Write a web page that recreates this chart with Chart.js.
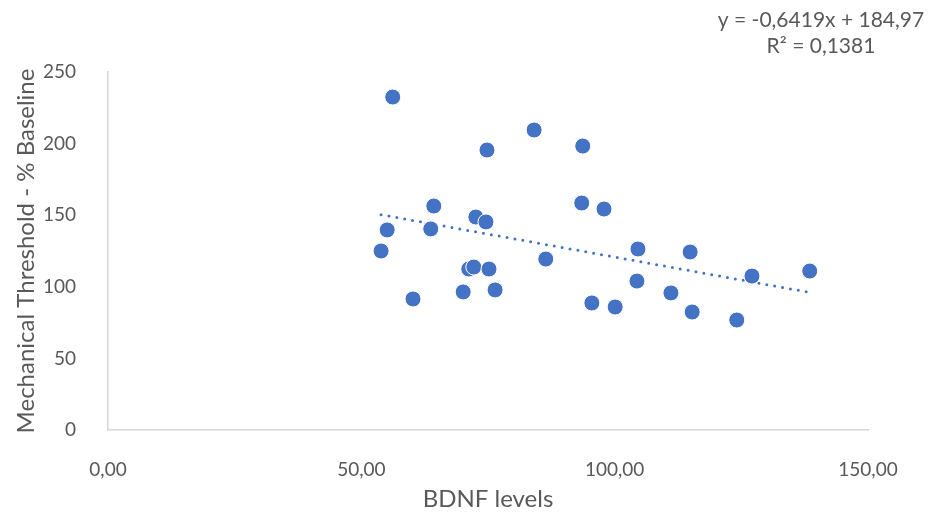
<!DOCTYPE html>
<html>
<head>
<meta charset="utf-8">
<script src="https://cdn.jsdelivr.net/npm/chart.js@4"></script>
<style>
  body { margin: 0; background: #fff; }
  #wrap { width: 930px; height: 520px; }
</style>
</head>
<body>
<div id="wrap"><canvas id="graph"></canvas></div>
<script>
// BDNF levels (x) and mechanical threshold % baseline (y)
const bdnf = [53.9, 55.1, 56.2, 60.2, 63.7, 64.3, 70.1, 71.2, 72.2, 72.6, 74.6, 74.8, 75.2, 76.4,
  84.1, 86.4, 93.5, 93.7, 95.5, 97.9, 100.1, 104.4, 104.6, 111.1, 114.9, 115.3, 124.1, 127.1, 138.5];
const threshold = [125, 139.7, 232.5, 91.5, 140.4, 156.4, 96.4, 112.4, 113.8, 148.7, 145.3, 195.5, 112.4, 97.8,
  209.5, 119.4, 158.5, 198.3, 88.7, 154.3, 85.9, 104, 126.4, 95.7, 124.3, 82.4, 76.8, 107.5, 111];

// trendline from the equation on the chart
const slope = -0.6419;
const intercept = 184.97;
const eqLines = ['y = -0,6419x + 184,97', 'R² = 0,1381'];

const points = bdnf.map((x, i) => ({ x: x, y: threshold[i] }));
const xMin = Math.min(...bdnf), xMax = Math.max(...bdnf);
const trend = [xMin, xMax].map(x => ({ x: x, y: slope * x + intercept }));

const blue = '#4472C4';
const grey = '#595959';
const font = 'Lato, "Open Sans", sans-serif';

// draws the trend equation in the top right
const equation = {
  id: 'equation',
  afterDraw(chart) {
    const ctx = chart.ctx;
    ctx.save();
    ctx.fillStyle = grey;
    ctx.font = '21px ' + font;
    ctx.textAlign = 'center';
    ctx.textBaseline = 'middle';
    ctx.fillText(eqLines[0], 821, 20);
    ctx.fillText(eqLines[1], 821, 46);
    ctx.restore();
  }
};

const graph = document.getElementById('graph').getContext('2d');
let myChart = new Chart(graph, {
  data: {
    datasets: [
      {
        type: 'line',
        data: trend,
        borderColor: blue,
        borderWidth: 3,
        borderDash: [0, 8],
        borderCapStyle: 'round',
        pointRadius: 0,
        fill: false,
        order: 2
      },
      {
        type: 'scatter',
        data: points,
        backgroundColor: blue,
        borderColor: '#fff',
        borderWidth: 1,
        pointRadius: 8,
        pointHoverRadius: 8,
        order: 1
      }
    ]
  },
  options: {
    responsive: true,
    maintainAspectRatio: false,
    animation: false,
    layout: { padding: { top: 72, right: 62, left: 0, bottom: 0 } },
    plugins: { legend: { display: false }, tooltip: { enabled: false } },
    scales: {
      x: {
        type: 'linear',
        min: 0, max: 150,
        grid: { display: false },
        border: { display: true, color: '#d6d6d6', width: 1.5 },
        ticks: {
          stepSize: 50, color: grey, padding: 20,
          font: { family: font, size: 19 },
          maxRotation: 0,
          callback: v => v.toFixed(2).replace('.', ',')
        },
        title: {
          display: true, text: 'BDNF levels', color: grey,
          font: { family: font, size: 24 },
          padding: { top: 0, bottom: 6 }
        },
        afterFit(scale) { scale.height = 90; }
      },
      y: {
        min: 0, max: 250,
        grid: { display: false },
        border: { display: true, color: '#d6d6d6', width: 1.5 },
        ticks: {
          stepSize: 50, color: grey, padding: 24,
          font: { family: font, size: 19 }
        },
        title: {
          display: true, text: 'Mechanical Threshold - % Baseline', color: grey,
          font: { family: font, size: 24 },
          padding: { top: 12, bottom: 0 }
        },
        afterFit(scale) { scale.width = 108; }
      }
    }
  },
  plugins: [equation]
});
</script>
</body>
</html>
